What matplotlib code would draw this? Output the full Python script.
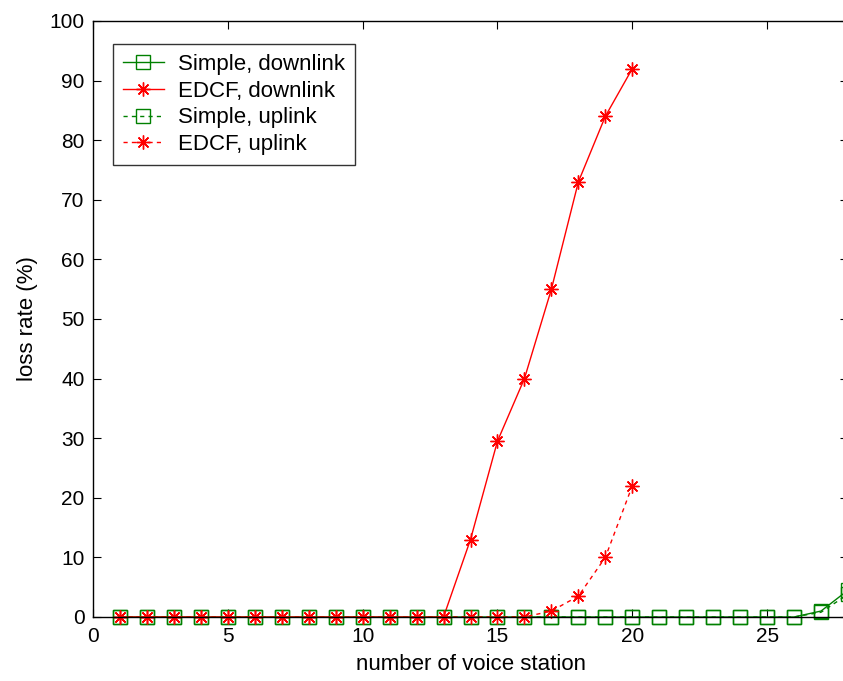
import matplotlib
matplotlib.use("Agg")
import matplotlib.pyplot as plt
import numpy as np

plt.rcParams['font.family'] = ['Liberation Sans', 'DejaVu Sans']

# 数据
stations = list(range(1, 29))
simple_down = [0]*26 + [1.0, 4.5]
simple_up = [0]*26 + [0.8, 3.8]
edcf_x = list(range(1, 21))
edcf_down = [0]*13 + [13, 29.5, 40, 55, 73, 84, 92]
edcf_up = [0]*16 + [1, 3.5, 10, 22]

x_ticks = [0, 5, 10, 15, 20, 25]
y_ticks = list(range(0, 101, 10))

fig = plt.figure(figsize=(8.43, 6.81), dpi=100)
ax = fig.add_axes([93/843, 64/681, 755/843, 596/681])

star = (8, 2, 0)
green = '#008000'
red = '#ff0000'
ax.plot(stations, simple_down, color=green, ls='-', lw=1, marker='s',
        ms=10.5, mfc='none', mec=green, mew=1, clip_on=False,
        label='Simple, downlink')
ax.plot(edcf_x, edcf_down, color=red, ls='-', lw=1, marker=star,
        ms=10, mec=red, mew=1, clip_on=False, label='EDCF, downlink')
ax.plot(stations, simple_up, color=green, ls='--', lw=1, marker='s',
        ms=10.5, mfc='none', mec=green, mew=1, dashes=(3, 3), clip_on=False,
        label='Simple, uplink')
ax.plot(edcf_x, edcf_up, color=red, ls='--', lw=1, marker=star,
        ms=10, mec=red, mew=1, dashes=(3, 3), clip_on=False,
        label='EDCF, uplink')

ax.set_xlim(0, 28)
ax.set_ylim(0, 100)
ax.set_xticks(x_ticks)
ax.set_yticks(y_ticks)
ax.tick_params(direction='in', top=True, right=True, labelsize=15, length=6)
ax.tick_params(axis='x', pad=7)
ax.tick_params(axis='y', pad=6)
ax.set_xlabel('number of voice station', fontsize=16, labelpad=6)
ax.set_ylabel('loss rate (%)', fontsize=16, labelpad=8)
for s in ax.spines.values():
    s.set_linewidth(1)

leg = ax.legend(loc='upper left', bbox_to_anchor=(0.026, 0.961), fontsize=16,
                frameon=True, fancybox=False, edgecolor='black',
                borderpad=0.45, labelspacing=0.25, handlelength=1.85,
                handletextpad=0.63, borderaxespad=0)
leg.get_frame().set_linewidth(1)

fig.savefig('out.png', dpi=100)
